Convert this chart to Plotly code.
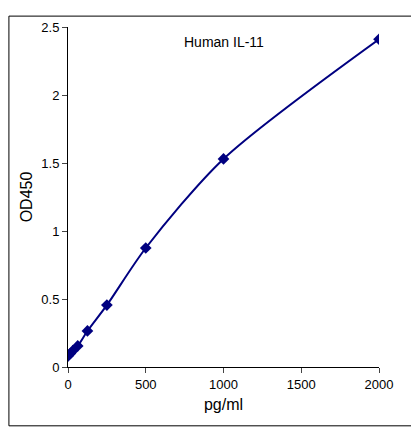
import plotly.graph_objects as go

conc = [0, 15.6, 31.25, 62.5, 125, 250, 500, 1000, 2000]
od = [0.08, 0.10, 0.12, 0.155, 0.265, 0.455, 0.875, 1.53, 2.41]

fig = go.Figure(go.Scatter(
    x=conc, y=od, mode="lines+markers",
    line=dict(color="#000080", width=2, shape="spline", smoothing=0.8),
    marker=dict(symbol="diamond", size=9, color="#000080"),
))
fig.update_layout(
    width=419, height=432, paper_bgcolor="white", plot_bgcolor="white",
    margin=dict(l=60, r=48, t=12, b=73),
    showlegend=False,
    font=dict(family="Liberation Sans, Arial", size=13, color="black"),
    annotations=[dict(text="Human IL-11", x=0.5, y=0.985, xref="paper", yref="paper",
                      showarrow=False, xanchor="center", yanchor="top", font=dict(size=14))],
    shapes=[dict(type="rect", xref="paper", yref="paper", x0=-0.19, x1=1.122, y0=-0.173, y1=1.032,
                 line=dict(color="black", width=1))],
)
fig.update_xaxes(range=[0, 2000], tickvals=[0, 500, 1000, 1500, 2000], showline=True,
                 linecolor="black", ticks="outside", ticklen=5, showgrid=False, zeroline=False,
                 title=dict(text="pg/ml", standoff=8))
fig.update_yaxes(range=[0, 2.5], tickvals=[0, 0.5, 1, 1.5, 2, 2.5], ticktext=["0", "0.5", "1", "1.5", "2", "2.5"],
                 showline=True, linecolor="black", ticks="outside", ticklen=5, showgrid=False, zeroline=False,
                 title=dict(text="OD450", standoff=4))
fig.write_html("out.html")
